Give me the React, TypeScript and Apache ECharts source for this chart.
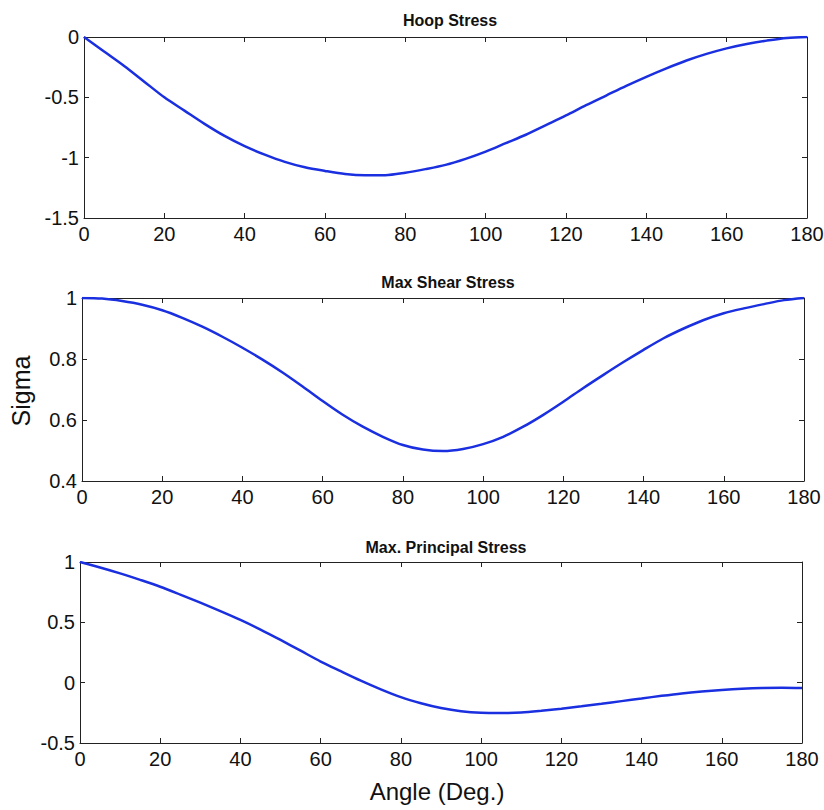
import React, { useEffect, useRef } from 'react';
import * as echarts from 'echarts';

const angles = [0, 5, 10, 15, 20, 25, 30, 35, 40, 45, 50, 55, 60, 65, 70, 75, 80, 85, 90, 95, 100, 105, 110, 115, 120, 125, 130, 135, 140, 145, 150, 155, 160, 165, 170, 175, 180];

const hoopStress = [0, -0.12, -0.24, -0.37, -0.5, -0.61, -0.72, -0.82, -0.905, -0.975, -1.035, -1.08, -1.11, -1.135, -1.145, -1.145, -1.125, -1.095, -1.06, -1.01, -0.95, -0.88, -0.81, -0.73, -0.65, -0.565, -0.485, -0.405, -0.33, -0.26, -0.195, -0.14, -0.094, -0.058, -0.03, -0.008, 0];

const maxShearStress = [1.0, 0.998, 0.99, 0.978, 0.96, 0.935, 0.906, 0.873, 0.837, 0.798, 0.756, 0.71, 0.662, 0.617, 0.578, 0.545, 0.518, 0.503, 0.498, 0.505, 0.521, 0.545, 0.578, 0.617, 0.66, 0.705, 0.748, 0.79, 0.83, 0.868, 0.9, 0.928, 0.95, 0.966, 0.98, 0.993, 1.0];

const maxPrincipalStress = [1.0, 0.955, 0.906, 0.852, 0.795, 0.73, 0.663, 0.593, 0.52, 0.44, 0.354, 0.265, 0.175, 0.095, 0.017, -0.055, -0.12, -0.17, -0.21, -0.237, -0.25, -0.252, -0.247, -0.233, -0.216, -0.196, -0.175, -0.153, -0.131, -0.109, -0.089, -0.073, -0.06, -0.05, -0.044, -0.043, -0.045];

const xTicks = [0, 20, 40, 60, 80, 100, 120, 140, 160, 180];
const hoopTicks = [-1.5, -1, -0.5, 0];
const shearTicks = [0.4, 0.6, 0.8, 1];
const principalTicks = [-0.5, 0, 0.5, 1];

const titles = ['Hoop Stress', 'Max Shear Stress', 'Max. Principal Stress'];
const yLabel = 'Sigma';
const xLabel = 'Angle (Deg.)';

const FONT = '"Liberation Sans", Arial, Helvetica, sans-serif';
const LINE_COLOR = '#1a2fe0';
const AXIS_COLOR = '#222';

const round3 = (v: number) => Math.round(v * 1000) / 1000;
const fmt = (v: number) => String(round3(v));

export default function App() {
  const ref = useRef<HTMLDivElement>(null);

  useEffect(() => {
    document.body.style.margin = '0';
    if (!ref.current) return;
    const chart = echarts.init(ref.current, null, { renderer: 'svg' });

    const panels = [
      { data: hoopStress, ticks: hoopTicks, grid: { left: 84, right: 17, top: 37, height: 181 }, titleTop: 7, titleX: 445 },
      { data: maxShearStress, ticks: shearTicks, grid: { left: 82, right: 20, top: 298, height: 183 }, titleTop: 269, titleX: 443 },
      { data: maxPrincipalStress, ticks: principalTicks, grid: { left: 80, right: 22, top: 562, height: 181 }, titleTop: 534, titleX: 441 },
    ];

    const xStep = xTicks[1] - xTicks[0];
    const grids: any[] = [];
    const xAxes: any[] = [];
    const yAxes: any[] = [];
    const series: any[] = [];
    const titleArr: any[] = [];

    const tick = { show: true, inside: true, length: 5, lineStyle: { color: AXIS_COLOR, width: 1 } };
    const axisLine = { show: true, onZero: false, lineStyle: { color: AXIS_COLOR, width: 1 } };

    panels.forEach((p, i) => {
      grids.push({ ...p.grid, containLabel: false, outerBoundsMode: 'none' });
      const yStep = round3(p.ticks[1] - p.ticks[0]);
      const yMin = p.ticks[0];
      const yMax = p.ticks[p.ticks.length - 1];
      xAxes.push({
        type: 'value', gridIndex: i, position: 'bottom',
        min: xTicks[0], max: xTicks[xTicks.length - 1], interval: xStep,
        axisLine, axisTick: tick, splitLine: { show: false },
        axisLabel: { color: '#111', fontSize: 20, fontFamily: FONT, margin: 6, formatter: fmt },
      });
      xAxes.push({
        type: 'value', gridIndex: i, position: 'top',
        min: xTicks[0], max: xTicks[xTicks.length - 1], interval: xStep,
        axisLine, axisTick: tick, splitLine: { show: false },
        axisLabel: { show: false },
      });
      yAxes.push({
        type: 'value', gridIndex: i, position: 'left',
        min: yMin, max: yMax, interval: yStep,
        axisLine, axisTick: tick, splitLine: { show: false },
        axisLabel: { color: '#111', fontSize: 20, fontFamily: FONT, margin: 5, formatter: fmt },
      });
      yAxes.push({
        type: 'value', gridIndex: i, position: 'right',
        min: yMin, max: yMax, interval: yStep,
        axisLine, axisTick: tick, splitLine: { show: false },
        axisLabel: { show: false },
      });
      series.push({
        type: 'line',
        xAxisIndex: i * 2,
        yAxisIndex: i * 2,
        data: angles.map((a, k) => [a, p.data[k]]),
        showSymbol: false,
        smooth: 0.3,
        lineStyle: { color: LINE_COLOR, width: 2.5 },
        itemStyle: { color: LINE_COLOR },
      });
      titleArr.push({
        text: titles[i],
        left: p.titleX,
        top: p.titleTop,
        textAlign: 'center',
        textStyle: { fontSize: 16, fontWeight: 'bold', fontFamily: FONT, color: '#111' },
      });
    });

    chart.setOption({
      animation: false,
      backgroundColor: '#fff',
      title: titleArr,
      grid: grids,
      xAxis: xAxes,
      yAxis: yAxes,
      series,
      graphic: [
        {
          type: 'text',
          x: 21, y: 391, rotation: Math.PI / 2,
          style: { text: yLabel, fontSize: 25, fontFamily: FONT, fill: '#111', textAlign: 'center', textVerticalAlign: 'middle' },
        },
        {
          type: 'text',
          x: 437, y: 791,
          style: { text: xLabel, fontSize: 24, fontFamily: FONT, fill: '#111', textAlign: 'center', textVerticalAlign: 'middle' },
        },
      ],
    });

    return () => chart.dispose();
  }, []);

  return <div ref={ref} style={{ width: 824, height: 810 }} />;
}
